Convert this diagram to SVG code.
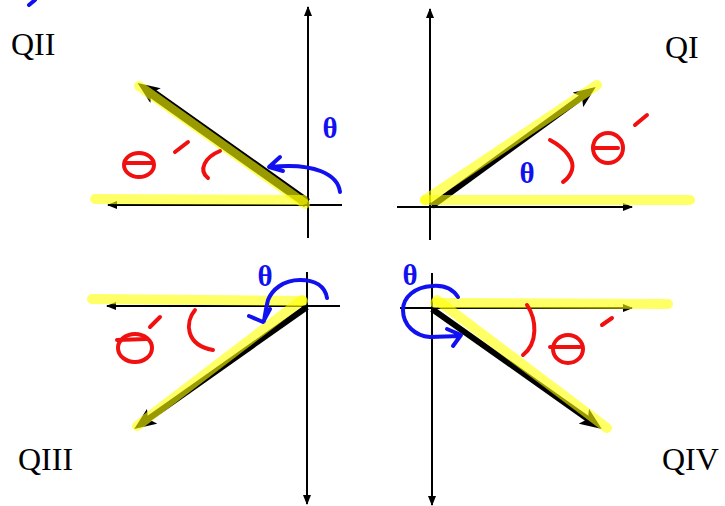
<svg xmlns="http://www.w3.org/2000/svg" width="725" height="506" viewBox="0 0 725 506">
<style>
.axis{stroke:#000;stroke-width:2;fill:none;marker-end:url(#ah)}
.term{stroke:#000;stroke-width:6;fill:none;marker-end:url(#th)}
.hl{stroke:#ffff00;stroke-opacity:0.6;stroke-width:10;stroke-linecap:round;fill:none}
.red{stroke:#f01010;stroke-width:4;stroke-linecap:round;stroke-linejoin:round;fill:none}
.blue{stroke:#1010f0;stroke-width:4;stroke-linecap:round;stroke-linejoin:round;fill:none}
.q{font-family:"Liberation Serif","Times New Roman",serif;font-size:32px;fill:#000}
.th{font-family:"Liberation Serif","Times New Roman",serif;font-size:29px;font-weight:bold;fill:#1010f0;text-anchor:middle}
</style>
<defs>
<marker id="ah" markerUnits="userSpaceOnUse" markerWidth="10" markerHeight="8" viewBox="0 0 10 8" refX="9" refY="4" orient="auto">
<path d="M0,0 L10,4 L0,8 z" fill="#000"/>
</marker>
<marker id="th" markerUnits="userSpaceOnUse" markerWidth="22" markerHeight="18" viewBox="0 0 22 18" refX="10" refY="9" orient="auto">
<path d="M0,0 L22,9 L0,18 L5,9 z" fill="#000"/>
</marker>
<marker id="th2" markerUnits="userSpaceOnUse" markerWidth="22" markerHeight="18" viewBox="0 0 22 18" refX="8" refY="9" orient="auto">
<path d="M0,0 L22,9 L0,18 L5,9 z" fill="#000"/>
</marker>
</defs>
<rect width="725" height="506" fill="#fff"/>
<path class="blue" d="M29,5 L35,0"/>
<g id="qii">
<line class="axis" x1="308" y1="238" x2="308" y2="7"/>
<line class="axis" x1="342" y1="205" x2="108" y2="205"/>
<line class="term" style="stroke-width:10;marker-end:url(#th2)" x1="307" y1="203" x2="149" y2="91"/>
<line class="hl" x1="95" y1="199" x2="303" y2="200"/>
<line class="hl" x1="305" y1="204" x2="139" y2="86"/>
<ellipse class="red" cx="139" cy="165" rx="15" ry="12"/>
<path class="red" d="M125,163 L152,163 M175,152 L188,142 M220,151 C205,157 198,170 208,178"/>
<path class="blue" d="M340,192 C338,175 315,162 270,167 M280,157 L269,167 L283,171"/>
<text class="th" x="330" y="138">θ</text>
<text class="q" x="11" y="55">QII</text>
</g>
<g id="qi">
<line class="axis" x1="430" y1="240" x2="430" y2="9"/>
<line class="axis" x1="397" y1="207" x2="632" y2="207"/>
<line class="term" x1="432" y1="206" x2="586" y2="94"/>
<line class="hl" x1="425" y1="200" x2="690" y2="200"/>
<line class="hl" x1="425" y1="200" x2="597" y2="85"/>
<ellipse class="red" cx="608" cy="148" rx="15" ry="15"/>
<path class="red" d="M593,148 L618,148 M635,125 L647,115 M550,140 C565,148 575,160 572,170 C570,176 566,180 563,182"/>
<text class="th" x="527" y="183">θ</text>
<text class="q" x="665" y="58">QI</text>
</g>
<g id="qiii">
<line class="axis" x1="307" y1="272" x2="307" y2="504"/>
<line class="axis" x1="340" y1="306" x2="107" y2="306"/>
<line class="term" x1="307" y1="307" x2="144" y2="422"/>
<line class="hl" x1="92" y1="299" x2="303" y2="301"/>
<line class="hl" x1="302" y1="300" x2="137" y2="426"/>
<ellipse class="red" cx="135" cy="348" rx="17" ry="14"/>
<path class="red" d="M117,340 L147,339 M150,327 L160,317 M195,310 C185,322 185,345 213,350"/>
<path class="blue" d="M327,298 C325,286 315,280 300,280 C283,280 272,290 268,300 C266,308 265,315 264,321 M249,316 L263,322 L270,309"/>
<text class="th" x="265" y="286">θ</text>
<text class="q" x="18" y="470">QIII</text>
</g>
<g id="qiv">
<line class="axis" x1="432" y1="273" x2="432" y2="505"/>
<line class="axis" x1="400" y1="308" x2="632" y2="308"/>
<line class="term" x1="432" y1="309" x2="592" y2="422"/>
<line class="hl" x1="435" y1="303" x2="668" y2="304"/>
<line class="hl" x1="437" y1="300" x2="607" y2="428"/>
<ellipse class="red" cx="568" cy="349" rx="15" ry="14"/>
<path class="red" d="M550,347 L580,347 M602,325 L612,318 M527,305 C537,320 538,343 523,355"/>
<path class="blue" d="M458,297 C452,288 442,285 432,286 C415,287 403,297 403,310 C403,325 415,336 430,337 L460,336 M447,329 L461,335 L453,346"/>
<text class="th" x="410" y="285">θ</text>
<text class="q" x="662" y="470">QIV</text>
</g>
</svg>
